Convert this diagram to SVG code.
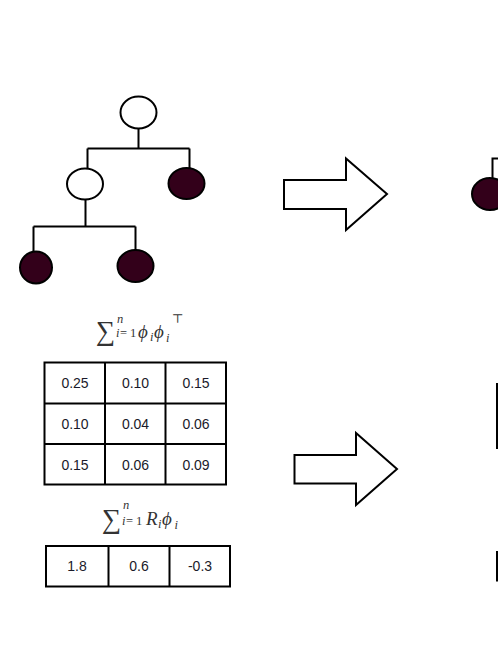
<svg xmlns="http://www.w3.org/2000/svg" width="498" height="645" viewBox="0 0 498 645">
<style>
.ln{fill:none;stroke:#000;stroke-width:2}
.open{fill:#fff;stroke:#000;stroke-width:2}
.leaf{fill:#33001a;stroke:#000;stroke-width:2}
.cell{fill:#fff;stroke:#000;stroke-width:2}
.grid{stroke:#000;stroke-width:2}
.num{font-family:"Liberation Sans",Arial,sans-serif;font-size:14px;fill:#1a1a2a;text-anchor:middle}
.math{font-family:"Liberation Serif","DejaVu Serif",serif;fill:#333}
.it{font-style:italic}
.sum{font-size:27px}
.big{font-size:19px;font-style:italic}
.sm{font-size:12.5px}
.arrow{fill:#fff;stroke:#000;stroke-width:2;stroke-linejoin:miter}
</style>
<rect width="498" height="645" fill="#fff"/>
<g id="connectors">
<path class="ln" d="M138.5,128 V148.5 M87.5,148.5 H189.5 M87.5,148.5 V169 M189.5,148.5 V168"/>
<path class="ln" d="M85.5,199 V226.5 M33.5,226.5 H135.5 M33.5,226.5 V252 M135.5,226.5 V250"/>
<path class="ln" d="M492.5,178 V158.5 H500"/>
</g>
<g id="root"><ellipse class="open" cx="138.5" cy="112.5" rx="18" ry="16"/></g>
<g id="mid"><ellipse class="open" cx="85" cy="184" rx="18" ry="15.5"/></g>
<g id="leafR"><ellipse class="leaf" cx="186.5" cy="183.5" rx="18" ry="15.5"/></g>
<g id="leafLL"><ellipse class="leaf" cx="36" cy="267.5" rx="16" ry="16"/></g>
<g id="leafLR"><ellipse class="leaf" cx="135.5" cy="266" rx="18" ry="16"/></g>
<g id="leafPartial"><ellipse class="leaf" cx="490" cy="194" rx="18" ry="16"/></g>
<g id="arrow1"><polygon class="arrow" points="284,180 346,180 346,158.5 387,194 346,230 346,209 284,209"/></g>
<g id="arrow2"><polygon class="arrow" points="294.5,455 356,455 356,433 397,469 356,505 356,483.5 294.5,483.5"/></g>
<g id="label1" class="math">
<text class="sum" x="96" y="340">∑</text>
<text class="sm it" x="117" y="323">n</text>
<text class="sm" x="116" y="337"><tspan class="it">i</tspan><tspan x="120">=</tspan><tspan x="130">1</tspan></text>
<text class="big" x="138" y="338">ϕ</text>
<text class="sm it" x="150" y="341">i</text>
<text class="big" x="154" y="338">ϕ</text>
<text class="sm it" x="166" y="342">i</text>
<text class="sm" x="172" y="323">⊤</text>
</g>
<g id="matrix">
<rect class="cell" x="44.5" y="362.5" width="181.5" height="122"/>
<path class="grid" d="M105,362.5 V484.5 M165.5,362.5 V484.5 M44.5,403.5 H226 M44.5,444 H226"/>
<text class="num" x="75" y="388">0.25</text>
<text class="num" x="135.5" y="388">0.10</text>
<text class="num" x="196" y="388">0.15</text>
<text class="num" x="75" y="429">0.10</text>
<text class="num" x="135.5" y="429">0.04</text>
<text class="num" x="196" y="429">0.06</text>
<text class="num" x="75" y="469.5">0.15</text>
<text class="num" x="135.5" y="469.5">0.06</text>
<text class="num" x="196" y="469.5">0.09</text>
</g>
<g id="label2" class="math">
<text class="sum" x="102" y="528">∑</text>
<text class="sm it" x="123" y="509">n</text>
<text class="sm" x="122" y="525"><tspan class="it">i</tspan><tspan x="126">=</tspan><tspan x="136">1</tspan></text>
<text class="big" x="146" y="525">R</text>
<text class="sm it" x="158" y="528">i</text>
<text class="big" x="162" y="525">ϕ</text>
<text class="sm it" x="174.5" y="529">i</text>
</g>
<g id="vector">
<rect class="cell" x="46" y="546" width="184" height="40.5"/>
<path class="grid" d="M108.5,546 V586.5 M169.5,546 V586.5"/>
<text class="num" x="77" y="571">1.8</text>
<text class="num" x="139" y="571">0.6</text>
<text class="num" x="200" y="571">-0.3</text>
</g>
<g id="partialBoxes">
<path class="ln" d="M497,383 V449 M497,416.5 H500 M497,551 V581.5"/>
</g>
</svg>
